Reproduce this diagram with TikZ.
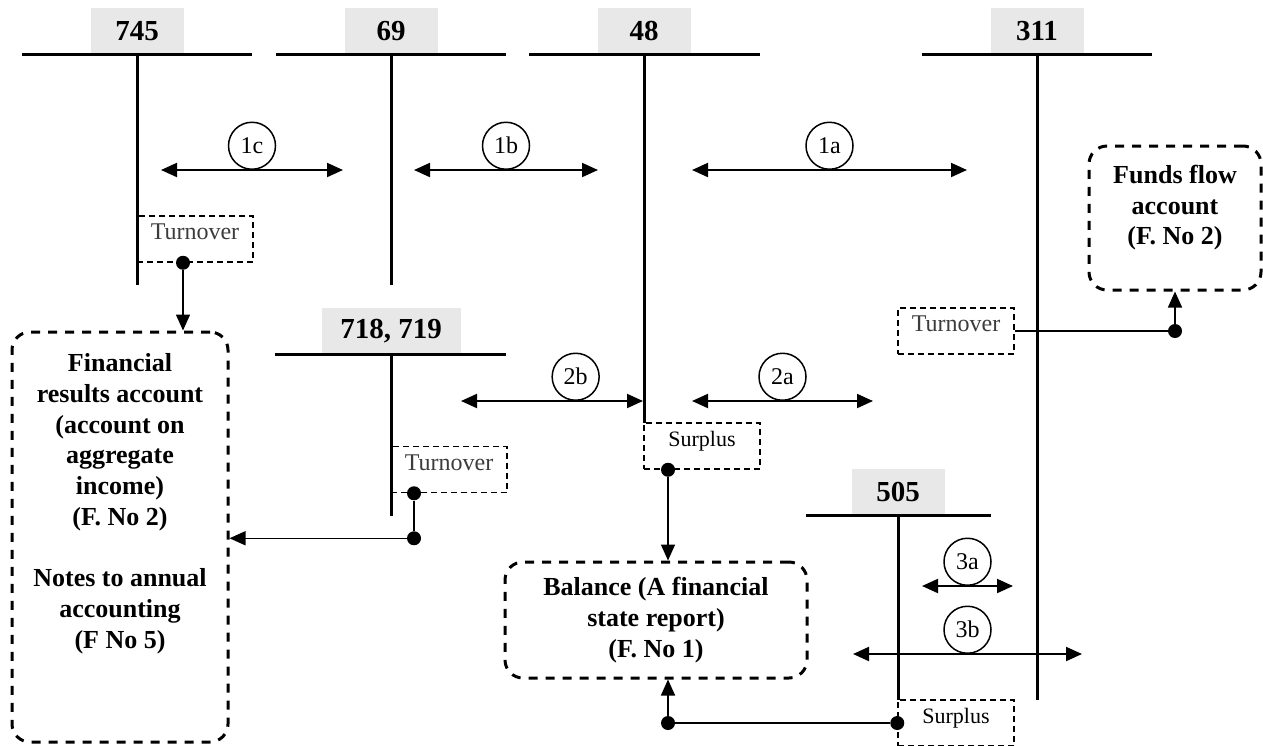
\documentclass[tikz,border=0pt]{standalone}
\usepackage{fontspec}
\setmainfont{Liberation Serif}
\usetikzlibrary{arrows.meta,positioning,calc}
\definecolor{accgray}{RGB}{232,232,232}
\definecolor{notegray}{RGB}{60,60,60}

\begin{document}
\begin{tikzpicture}[
    x=0.5pt, y=-0.5pt,
    >={Triangle[length=8pt,width=7pt]},
    acclabel/.style={fill=accgray, minimum width=46.5pt, minimum height=23pt, inner sep=0pt, font=\bfseries\fontsize{14.5}{17}\selectfont},
    tline/.style={line width=1.5pt},
    flow/.style={<->, line width=1pt},
    num/.style={draw, circle, line width=0.75pt, minimum size=23.5pt, inner sep=0pt, anchor=south, font=\fontsize{12}{14}\selectfont},
    notebox/.style={draw, dash pattern=on 3pt off 2pt, line width=0.75pt, minimum width=58pt, minimum height=23pt, inner sep=0pt, text height=8pt, text depth=7.5pt},
    report/.style={draw, dash pattern=on 4.5pt off 4pt, line width=1.5pt, rounded corners=9pt, align=center, inner sep=0pt, font=\bfseries\fontsize{13}{15.35}\selectfont},
    conn/.style={line width=0.75pt},
    dot/.style={circle, fill, inner sep=0pt, minimum size=7pt}
]
    \useasboundingbox (0,0) rectangle (1263,745);

    % T-accounts
    \node[acclabel] (a745) at (137,31) {745};
    \draw[tline] ([xshift=-57.5pt]a745.south) -- ([xshift=57.5pt]a745.south);
    \draw[tline] (a745.south) -- ++(0,231);

    \node[acclabel] (a69) at (391,31) {69};
    \draw[tline] ([xshift=-57.5pt]a69.south) -- ([xshift=57.5pt]a69.south);
    \draw[tline] (a69.south) -- ++(0,231);

    \node[acclabel] (a48) at (644,31) {48};
    \draw[tline] ([xshift=-57.5pt]a48.south) -- ([xshift=58pt]a48.south);
    \draw[tline] (a48.south) -- ++(0,369);

    \node[acclabel] (a311) at (1037,31) {311};
    \draw[tline] ([xshift=-57.5pt]a311.south) -- ([xshift=57.5pt]a311.south);
    \draw[tline] (a311.south) -- ++(0,646);

    \node[acclabel, minimum width=69.5pt] (a718) at (391,331) {718, 719};
    \draw[tline] ([xshift=-58pt]a718.south) -- ([xshift=57.5pt]a718.south);
    \draw[tline] (a718.south) -- ++(0,162);

    \node[acclabel] (a505) at (898,492) {505};
    \draw[tline] ([xshift=-46pt]a505.south) -- ([xshift=46.5pt]a505.south);
    \draw[tline] (a505.south) -- ++(0,185);

    % entries between accounts
    \coordinate (r1cL) at (161,170);
    \coordinate (r1cR) at (343,170);
    \coordinate (r1bL) at (414,170);
    \coordinate (r1bR) at (598,170);
    \coordinate (r1aL) at (692,170);
    \coordinate (r1aR) at (967,170);
    \coordinate (r2bL) at (461,401);
    \coordinate (r2bR) at (643,401);
    \coordinate (r2aL) at (692,401);
    \coordinate (r2aR) at (873,401);
    \coordinate (r3aL) at (922,586);
    \coordinate (r3aR) at (1013,586);
    \coordinate (r3bL) at (853,654);
    \coordinate (r3bR) at (1082,654);

    \draw[flow] (r1cL) -- (r1cR) node[num, pos=0.5] (n1c) {1c};
    \draw[flow] (r1bL) -- (r1bR) node[num, pos=0.5] (n1b) {1b};
    \draw[flow] (r1aL) -- (r1aR) node[num, pos=0.5] (n1a) {1a};
    \draw[flow] (r2bL) -- (r2bR) node[num, pos=0.63] (n2b) {2b};
    \draw[flow] (r2aL) -- (r2aR) node[num, pos=0.5] (n2a) {2a};
    \draw[flow] (r3aL) -- (r3aR) node[num, pos=0.5] (n3a) {3a};
    \draw[flow] (r3bL) -- (r3bR) node[num, pos=0.5] (n3b) {3b};

    % turnover / surplus notes
    \node[notebox, text=notegray, font=\fontsize{12}{14}\selectfont] (t745) at (195,239) {Turnover};
    \node[notebox, text=notegray, font=\fontsize{12}{14}\selectfont] (t311) at (956,331) {Turnover};
    \node[notebox, text=notegray, font=\fontsize{12}{14}\selectfont] (t718) at (449,469.5) {Turnover};
    \node[notebox, font=\fontsize{11}{13}\selectfont] (s48) at (702,446) {Surplus};
    \node[notebox, font=\fontsize{11}{13}\selectfont] (s505) at (956,723) {Surplus};

    % reports
    \node[report, minimum width=108pt, minimum height=205pt, text depth=36pt] (fin) at (120,537)
        {Financial\\results account\\(account on\\aggregate\\income)\\(F. No 2)\\[15.35pt]Notes to annual\\accounting\\(F No 5)};
    \node[report, minimum width=86pt, minimum height=72pt, text depth=13pt] (funds) at (1175,218)
        {Funds flow\\account\\(F. No 2)};
    \node[report, minimum width=151pt, minimum height=58pt] (bal) at (656,620)
        {Balance (A financial\\state report)\\(F. No 1)};

    % links to reports
    \node[dot] (d745) at ([xshift=-6pt]t745.south) {};
    \node[dot] (d311) at (funds.south |- t311.east) {};
    \node[dot] (d718a) at ([xshift=-17.5pt]t718.south) {};
    \node[dot] (d718b) at ([yshift=-22.5pt]d718a) {};
    \node[dot] (d48) at ([xshift=-17pt]s48.south) {};
    \node[dot] (d505) at (s505.west) {};
    \node[dot] (dbal) at (d48 |- d505) {};

    \draw[conn, ->] (d745) -- (d745 |- fin.north);
    \draw[conn] (t311.east) -- (d311);
    \draw[conn, ->] (d311) -- (funds.south);
    \draw[conn] (d718a) -- (d718b);
    \draw[conn, ->] (d718b) -- (d718b -| fin.east);
    \draw[conn, ->] (d48) -- (d48 |- bal.north);
    \draw[conn] (d505) -- (dbal);
    \draw[conn, ->] (dbal) -- (dbal |- bal.south);

\end{tikzpicture}
\end{document}
